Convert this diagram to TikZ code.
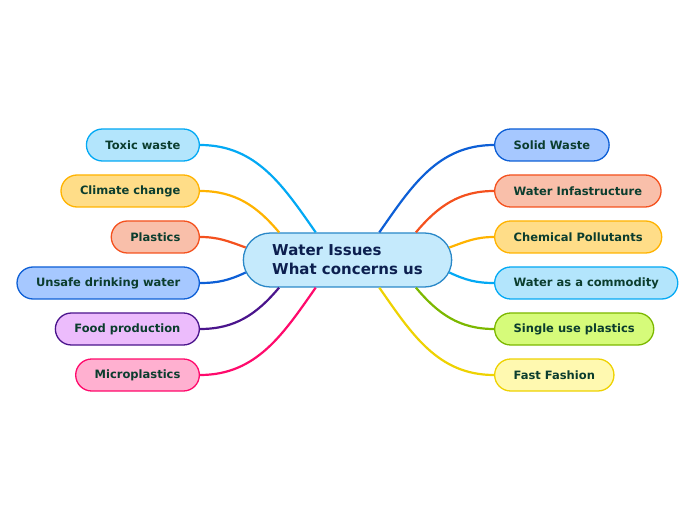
\documentclass[tikz,border=0pt]{standalone}
\usepackage{fontspec}
\setmainfont{DejaVu Sans}
\usepackage{tikz}
\usetikzlibrary{shapes.misc,positioning}

\definecolor{txtleaf}{HTML}{0B3D2E}
\definecolor{txthub}{HTML}{0C1F4F}
\definecolor{hubfill}{HTML}{C5EAFC}
\definecolor{hubline}{HTML}{2A88C8}
\definecolor{skyfill}{HTML}{B3E5FC}
\definecolor{skyline}{HTML}{03A9F4}
\definecolor{ambfill}{HTML}{FFDD88}
\definecolor{ambline}{HTML}{FFB300}
\definecolor{orgfill}{HTML}{F9BFAA}
\definecolor{orgline}{HTML}{F4511E}
\definecolor{bluefill}{HTML}{A6C8FF}
\definecolor{blueline}{HTML}{0D5FD6}
\definecolor{purfill}{HTML}{ECBCFC}
\definecolor{purline}{HTML}{4A148C}
\definecolor{pinkfill}{HTML}{FFB0D0}
\definecolor{pinkline}{HTML}{FF0A6C}
\definecolor{limefill}{HTML}{D6FB7A}
\definecolor{limeline}{HTML}{7CB800}
\definecolor{yelfill}{HTML}{FFF9B0}
\definecolor{yelline}{HTML}{EED202}

\begin{document}
\begin{tikzpicture}[x=1pt, y=1pt,
                    hub/.style = {rounded rectangle, draw=hubline, fill=hubfill, line width=1.3pt,
                                  minimum width=215pt, minimum height=54pt, align=left,
                                  text=txthub, font=\fontsize{15}{19}\selectfont\bfseries},
                    leaf/.style = {rectangle, rounded corners=16pt, line width=1.3pt,
                                   minimum height=32pt, inner xsep=19pt,
                                   text=txtleaf, font=\fontsize{11.5}{13}\selectfont\bfseries},
                    link/.style = {line width=2.2pt}
                ]

                \useasboundingbox (0,0) rectangle (696,520);

                \node[hub] (issues) at (347.5,260) {Water Issues\\What concerns us};

                % left side
                \node[leaf, draw=skyline, fill=skyfill, anchor=east] (toxic) at (200,375) {Toxic waste};
                \node[leaf, draw=ambline, fill=ambfill, anchor=east] (climate) at (200,329) {Climate change};
                \node[leaf, draw=orgline, fill=orgfill, anchor=east] (plastics) at (200,283) {Plastics};
                \node[leaf, draw=blueline, fill=bluefill, anchor=east] (unsafe) at (200,237) {Unsafe drinking water};
                \node[leaf, draw=purline, fill=purfill, anchor=east] (food) at (200,191) {Food production};
                \node[leaf, draw=pinkline, fill=pinkfill, anchor=east] (micro) at (200,145) {Microplastics};

                % right side
                \node[leaf, draw=blueline, fill=bluefill, anchor=west] (solid) at (494,375) {Solid Waste};
                \node[leaf, draw=orgline, fill=orgfill, anchor=west] (infra) at (494,329) {Water Infastructure};
                \node[leaf, draw=ambline, fill=ambfill, anchor=west] (chemical) at (494,283) {Chemical Pollutants};
                \node[leaf, draw=skyline, fill=skyfill, anchor=west] (commodity) at (494,237) {Water as a commodity};
                \node[leaf, draw=limeline, fill=limefill, anchor=west] (single) at (494,191) {Single use plastics};
                \node[leaf, draw=yelline, fill=yelfill, anchor=west] (fashion) at (494,145) {Fast Fashion};

                \draw[link, skyline] (toxic.east) to[out=0, in=125] (issues.139);
                \draw[link, ambline] (climate.east) to[out=0, in=130] (issues.158);
                \draw[link, orgline] (plastics.east) to[out=0, in=160] (issues.173);
                \draw[link, blueline] (unsafe.east) to[out=0, in=205] (issues.187);
                \draw[link, purline] (food.east) to[out=0, in=230] (issues.202);
                \draw[link, pinkline] (micro.east) to[out=0, in=235] (issues.221);

                \draw[link, blueline] (solid.west) to[out=180, in=55] (issues.41);
                \draw[link, orgline] (infra.west) to[out=180, in=50] (issues.22);
                \draw[link, ambline] (chemical.west) to[out=180, in=20] (issues.7);
                \draw[link, skyline] (commodity.west) to[out=180, in=-25] (issues.-7);
                \draw[link, limeline] (single.west) to[out=180, in=-50] (issues.-22);
                \draw[link, yelline] (fashion.west) to[out=180, in=-55] (issues.-41);

            \end{tikzpicture}
\end{document}
